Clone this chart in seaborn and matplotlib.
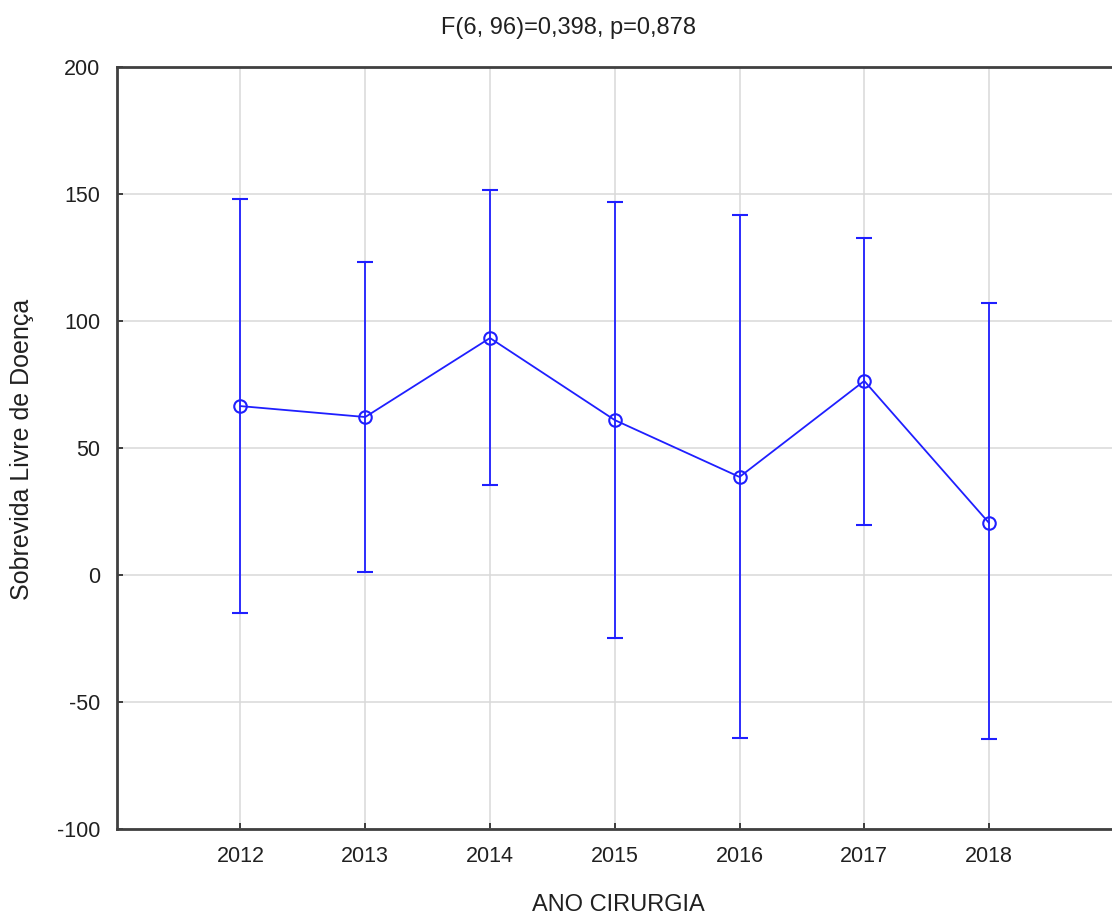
import numpy as np
import pandas as pd
import seaborn as sns
import matplotlib
matplotlib.use("Agg")
import matplotlib.pyplot as plt

# Disease-free survival by year of surgery: mean with 95% CI
years = ["2012", "2013", "2014", "2015", "2016", "2017", "2018"]
means = [66.5, 62.2, 93.3, 61.0, 38.6, 76.4, 20.5]
ci_upper = [148.0, 123.2, 151.6, 146.9, 141.7, 132.7, 107.0]
ci_lower = [-15.0, 1.2, 35.4, -24.8, -64.2, 19.7, -64.6]

df = pd.DataFrame({"ANO CIRURGIA": years, "Sobrevida": means})

sns.set_theme(style="white")
plt.rcParams["font.family"] = ["Liberation Sans", "DejaVu Sans"]
plt.rcParams["axes.unicode_minus"] = False

fig = plt.figure(figsize=(11.12, 9.19), dpi=100)
ax = fig.add_axes([0.1052, 0.0979, 0.902, 0.8292])

blue = "#1f1fff"
sns.pointplot(data=df, x="ANO CIRURGIA", y="Sobrevida", errorbar=None,
              color=blue, markers="o", linestyles="-", ax=ax,
              markersize=9, markerfacecolor="none", markeredgewidth=1.5,
              linewidth=1.3)

x = np.arange(len(years))
yerr = np.vstack([np.array(means) - np.array(ci_lower),
                  np.array(ci_upper) - np.array(means)])
ax.errorbar(x, means, yerr=yerr, fmt="none", ecolor=blue, elinewidth=1.3,
            capsize=6, capthick=1.5, zorder=3)

ax.set_xlim(-0.99, 7.05)
ax.set_ylim(-100, 200)
ax.set_yticks([-100, -50, 0, 50, 100, 150, 200])
ax.grid(True, color="#d8d8d8", linewidth=1.1)
ax.set_axisbelow(True)

for side in ["left", "bottom", "top", "right"]:
    ax.spines[side].set_color("#404040")
    ax.spines[side].set_linewidth(2)

ax.tick_params(axis="both", direction="in", length=4, width=1.2,
               color="#202020", labelsize=15.5, labelcolor="#202020",
               left=True, bottom=True, pad=12)

ax.set_xlabel("ANO CIRURGIA", fontsize=17, color="#202020")
ax.xaxis.set_label_coords(618 / 1112, 1 - 905 / 919, transform=fig.transFigure)
ax.xaxis.label.set_va("center")
ax.set_ylabel("Sobrevida Livre de Doença", fontsize=18, color="#202020")
ax.yaxis.set_label_coords(22 / 1112, 1 - 449 / 919, transform=fig.transFigure)
ax.yaxis.label.set_va("center")
fig.text(0.511, 1 - 28 / 919, "F(6, 96)=0,398, p=0,878", ha="center",
         va="center", fontsize=17, color="#202020")

fig.savefig("out.png", dpi=100, facecolor="white")
